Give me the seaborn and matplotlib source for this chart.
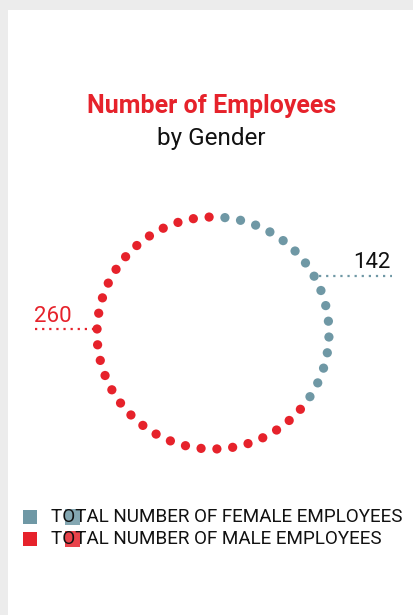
import numpy as np
import pandas as pd
import seaborn as sns
import matplotlib.pyplot as plt
from matplotlib.patches import Rectangle

# data
genders = ['Female', 'Male']
counts = [142, 260]
legend_labels = ['TOTAL NUMBER OF FEMALE EMPLOYEES', 'TOTAL NUMBER OF MALE EMPLOYEES']
colors = ['#6f98a5', '#e6222b']
n_dots = 46

sns.set_theme(style='white')
plt.rcParams['font.family'] = ['Roboto', 'DejaVu Sans']

W, H = 414, 615
fig = plt.figure(figsize=(W / 100, H / 100), dpi=100)
fig.patch.set_facecolor('#ececec')
ax = fig.add_axes([0, 0, 1, 1])

# white card
ax.add_patch(Rectangle((8, 10), W, H, facecolor='white', edgecolor='none', zorder=0))

# dots around the ring, female first from the top going clockwise
total = sum(counts)
n_f = round(n_dots * counts[0] / total)
step = 360 / n_dots
cx, cy, r = 213, 333, 116
ang = 84.1 - step * np.arange(n_dots)
rad = np.deg2rad(ang)
df = pd.DataFrame({
    'x': cx + r * np.cos(rad),
    'y': cy - r * np.sin(rad),
    'gender': [genders[0]] * n_f + [genders[1]] * (n_dots - n_f),
    'ang': ang,
})
sns.scatterplot(data=df, x='x', y='y', hue='gender', palette=colors, s=44,
                linewidth=0, legend=False, ax=ax, zorder=3)
ax.set_xlim(0, W)
ax.set_ylim(H, 0)
ax.axis('off')

# value labels with dotted leader lines
fem = df[df.gender == genders[0]]
fdot = fem.iloc[(fem['ang'] - 30).abs().argmin()]
ax.plot([fdot.x + 5, 392], [fdot.y, fdot.y], ls=(0, (1, 2.2)), lw=1.6, color=colors[0], zorder=2)
ax.text(391, fdot.y - 3, str(counts[0]), ha='right', va='bottom', fontsize=16, color='#111111')

mal = df[df.gender == genders[1]]
mdot = mal.loc[mal['x'].idxmin()]
ax.plot([35, mdot.x - 4], [mdot.y, mdot.y], ls=(0, (1, 2.2)), lw=1.6, color=colors[1], zorder=2)
ax.text(34, mdot.y - 2, str(counts[1]), ha='left', va='bottom', fontsize=16, color=colors[1])

# title
ax.text(212, 106, 'Number of Employees', ha='center', va='center', fontsize=18,
        fontweight='bold', color=colors[1])
ax.text(211, 138, 'by Gender', ha='center', va='center', fontsize=17.5, color='#111111')

# legend
for i, (lab, c) in enumerate(zip(legend_labels, colors)):
    y = 517 + i * 22
    ax.add_patch(Rectangle((23, y - 7), 14, 14, facecolor=c, edgecolor='none', zorder=2))
    ax.add_patch(Rectangle((65, y - 8), 15, 16, facecolor=c, edgecolor='none', alpha=0.85, zorder=1))
    ax.text(51, y, lab, ha='left', va='center', fontsize=13.6, color='#111111', zorder=3)

fig.savefig('out.png', dpi=100, facecolor=fig.get_facecolor())
